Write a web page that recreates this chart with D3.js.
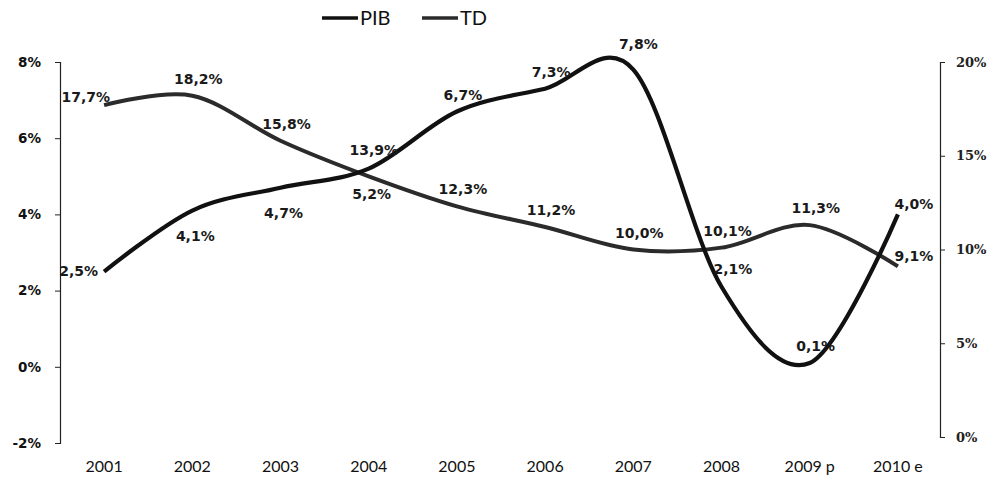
<!DOCTYPE html>
<html>
<head>
<meta charset="utf-8">
<script src="https://cdn.jsdelivr.net/npm/d3@7/dist/d3.min.js"></script>
<style>
  html, body { margin: 0; padding: 0; background: #fff; }
  svg { display: block; }
</style>
</head>
<body>
<svg id="chart" width="997" height="479"></svg>
<script>
// ---- data ----
const categories = ["2001", "2002", "2003", "2004", "2005", "2006", "2007", "2008", "2009 p", "2010 e"];
const pibValues = [2.5, 4.1, 4.7, 5.2, 6.7, 7.3, 7.8, 2.1, 0.1, 4.0];
const tdValues = [17.7, 18.2, 15.8, 13.9, 12.3, 11.2, 10.0, 10.1, 11.3, 9.1];
const leftTicks = [-2, 0, 2, 4, 6, 8];
const rightTicks = [0, 5, 10, 15, 20];
const seriesNames = ["PIB", "TD"];
// label placement (style): a=above, A=high above, b=below, l=left, al=above-left, r=right, ar=above-right
const pibPlace = ["l", "b", "b", "b", "a", "a", "A", "r", "a", "ar"];
const tdPlace = ["al", "a", "a", "A", "a", "a", "a", "a", "a", "ar"];

const svg = d3.select("#chart");
const fmt = v => d3.format(".1f")(v).replace(".", ",") + "%";

const x = d3.scaleBand().domain(categories).range([60, 942]).padding(0);
const cx = c => x(c) + x.bandwidth() / 2;
const yL = d3.scaleLinear().domain([-2, 8]).range([443, 62]);
const yR = d3.scaleLinear().domain([0, 20]).range([437, 62]);

// left axis
const gL = svg.append("g").attr("transform", "translate(60,0)")
  .call(d3.axisLeft(yL).tickValues(leftTicks).tickSize(5).tickPadding(14).tickFormat(d => d + "%"));
gL.select(".domain").attr("stroke", "#222").attr("stroke-width", 1.2);
gL.selectAll(".tick line").attr("stroke", "#222");
gL.selectAll("text").attr("font-family", "DejaVu Sans").attr("font-weight", "bold")
  .attr("font-size", 13.5).attr("fill", "#111");

// right axis
const gR = svg.append("g").attr("transform", "translate(940,0)")
  .call(d3.axisRight(yR).tickValues(rightTicks).tickSize(5).tickPadding(11).tickFormat(d => d + "%"));
gR.select(".domain").attr("stroke", "#222").attr("stroke-width", 1.2);
gR.selectAll(".tick line").attr("stroke", "#222");
gR.selectAll("text").attr("font-family", "DejaVu Serif").attr("font-weight", "bold")
  .attr("font-size", 13).attr("fill", "#222");

// x labels
const gX = svg.append("g").attr("transform", "translate(0,455)")
  .call(d3.axisBottom(x).tickSize(0).tickPadding(6));
gX.select(".domain").remove();
gX.selectAll("text").attr("font-family", "Lato").attr("font-size", 16).attr("fill", "#111");

// lines
const curve = d3.curveCardinal.tension(0);
const pibLine = d3.line().x((d, i) => cx(categories[i])).y(d => yL(d)).curve(curve);
const tdLine = d3.line().x((d, i) => cx(categories[i])).y(d => yR(d)).curve(curve);

svg.append("path").datum(tdValues).attr("d", tdLine)
  .attr("fill", "none").attr("stroke", "#2b2b2b").attr("stroke-width", 4).attr("stroke-linejoin", "round");
svg.append("path").datum(pibValues).attr("d", pibLine)
  .attr("fill", "none").attr("stroke", "#111").attr("stroke-width", 4.2).attr("stroke-linejoin", "round");

// data labels
const placements = {
  a:  {dx: 6,  dy: -12, anchor: "middle"},
  A:  {dx: 5,  dy: -21, anchor: "middle"},
  b:  {dx: 3,  dy: 30,  anchor: "middle"},
  l:  {dx: -6, dy: 4,   anchor: "end"},
  al: {dx: 6,  dy: -3,  anchor: "end"},
  r:  {dx: -8, dy: -13, anchor: "start"},
  ar: {dx: 16, dy: -5,  anchor: "middle"}
};
function labels(values, scale, places) {
  svg.append("g").selectAll("text").data(values).join("text")
    .each(function(d, i) {
      const o = placements[places[i]];
      d3.select(this)
        .attr("x", cx(categories[i]) + o.dx)
        .attr("y", scale(d) + o.dy)
        .attr("text-anchor", o.anchor);
    })
    .attr("font-family", "DejaVu Sans").attr("font-weight", "bold")
    .attr("font-size", 14).attr("fill", "#1a1a1a")
    .text(d => fmt(d));
}
labels(tdValues, yR, tdPlace);
labels(pibValues, yL, pibPlace);

// legend
const legendX = [322, 422];
const legendColors = ["#111", "#2b2b2b"];
const lg = svg.append("g");
seriesNames.forEach((name, i) => {
  lg.append("line").attr("x1", legendX[i]).attr("x2", legendX[i] + 36)
    .attr("y1", 18).attr("y2", 18).attr("stroke", legendColors[i]).attr("stroke-width", 3.5);
  lg.append("text").attr("x", legendX[i] + 38).attr("y", 25)
    .attr("font-family", "Lato").attr("font-size", 20).attr("fill", "#111").text(name);
});
</script>
</body>
</html>
